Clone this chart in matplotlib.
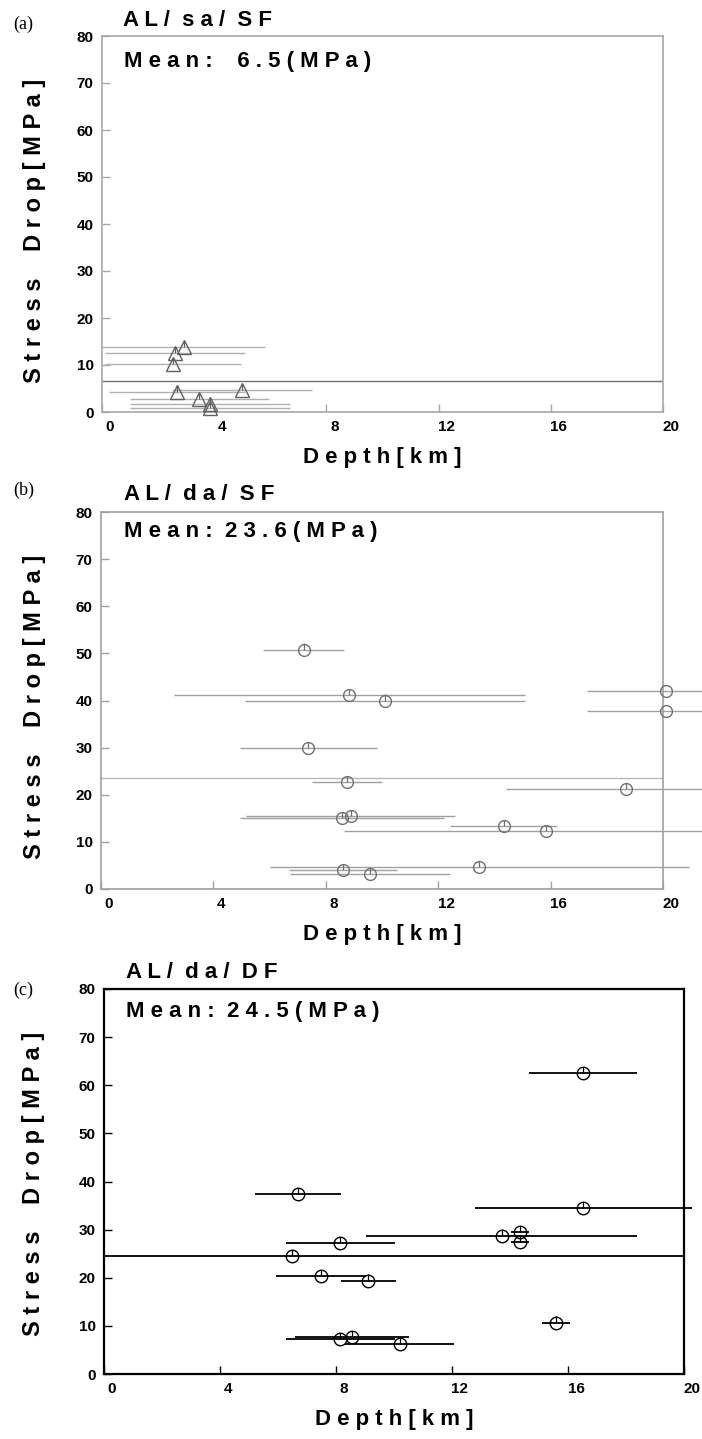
import numpy as np
import matplotlib
matplotlib.use('Agg')
import matplotlib.pyplot as plt
import matplotlib.transforms as mtransforms

# panel (a)  AL/sa/SF  (triangles)
a_depth = [2.91, 2.61, 2.52, 2.67, 4.99, 3.47, 3.85, 3.85]
a_drop = [13.8, 12.5, 10.2, 4.35, 4.6, 2.75, 1.67, 0.9]
a_xerr = [2.9, 2.5, 2.43, 2.43, 2.49, 2.48, 2.85, 2.85]
a_mean = 6.5

# panel (b)  AL/da/SF  (circles)
b_depth = [7.22, 8.84, 10.12, 20.1, 20.1, 7.38, 8.76, 18.68, 8.58, 8.88,
           14.33, 15.84, 8.61, 9.57, 13.46]
b_drop = [50.8, 41.2, 40.0, 42.1, 37.7, 29.9, 22.7, 21.2, 15.1, 15.5,
          13.4, 12.3, 4.1, 3.2, 4.6]
b_xerr = [1.44, 6.24, 4.98, 2.8, 2.8, 2.43, 1.25, 4.28, 3.63, 3.72,
          1.9, 7.2, 1.91, 2.85, 7.45]
b_mean = 23.6

# panel (c)  AL/da/DF  (circles)
c_depth = [16.53, 6.68, 16.53, 13.71, 14.34, 14.34, 8.15, 6.47, 7.48, 9.12,
           15.58, 8.15, 8.55, 10.2]
c_drop = [62.5, 37.4, 34.5, 28.75, 29.5, 27.5, 27.15, 24.45, 20.4, 19.4,
          10.7, 7.2, 7.6, 6.2]
c_xerr = [1.86, 1.49, 3.75, 4.68, 0.3, 0.3, 1.88, 0.0, 1.55, 0.95,
          0.49, 1.88, 1.98, 1.88]
c_mean = 24.5

xticks = [0, 4, 8, 12, 16, 20]
yticks = [0, 10, 20, 30, 40, 50, 60, 70, 80]

W, H = 702, 1439
fig = plt.figure(figsize=(7.02, 14.39), dpi=100)
plt.rcParams['font.family'] = ['Liberation Sans', 'DejaVu Sans']


def add_ax(left, right, top, bottom):
    return fig.add_axes([left / W, 1 - bottom / H, (right - left) / W, (bottom - top) / H])


def fig_text(x, y, s, **kw):
    fig.text(x / W, 1 - y / H, s, **kw)


def panel(ax, depth, drop, xerr, mean, marker, ms, lc, mc, meanc, lw, box, lab_dx):
    ax.set_xlim(0, 20)
    ax.set_ylim(0, 80)
    for x, y, e in zip(depth, drop, xerr):
        ax.errorbar([x], [y], xerr=[e], fmt='none', ecolor=lc, elinewidth=lw,
                    capsize=0, clip_on=False, zorder=2)
        ax.errorbar([x], [y], yerr=[[0], [1.3]], fmt='none', ecolor=mc,
                    elinewidth=0.9, capsize=0, zorder=3)
        ax.plot([x], [y], marker=marker, ms=ms, mfc='none', mec=mc, mew=1.0,
                ls='none', clip_on=False, zorder=4)
    ax.axhline(mean, color=meanc, lw=lw, zorder=1)
    for sp in ax.spines.values():
        sp.set_color(box[0])
        sp.set_linewidth(box[1])
    ax.set_xticks(xticks)
    ax.set_yticks(yticks)
    ax.tick_params(direction='in', length=6, width=1, color=box[0],
                   labelsize=11, pad=6)
    for lab in ax.get_xticklabels() + ax.get_yticklabels():
        lab.set_fontweight('bold')
    off = mtransforms.ScaledTranslation(lab_dx / 100, 0, fig.dpi_scale_trans)
    for t in ax.xaxis.get_major_ticks():
        t.label1.set_transform(t.label1.get_transform() + off)
    ax.set_xlabel('D e p t h [ k m ]', fontsize=16, fontweight='bold', labelpad=9)


ylab = 'S t r e s s    D r o p [ M P a ]'
tkw = dict(fontsize=16, fontweight='bold', va='center')
ykw = dict(fontsize=17, fontweight='bold', rotation=90, ha='center', va='center')
pkw = dict(fontsize=13, family='Liberation Serif', va='center')

# (a)
ax1 = add_ax(102, 663, 36, 412)
panel(ax1, a_depth, a_drop, a_xerr, a_mean, '^', 9.5, '#b0b0b0', '#606060',
      '#707070', 1.0, ('#a8a8a8', 1.2), 8)
fig_text(13, 24, '(a)', **pkw)
fig_text(123, 20, 'A L /  s a /  S F', **tkw)
fig_text(124, 61, 'M e a n :    6 . 5 ( M P a )', **tkw)
fig_text(35, 231, ylab, **ykw)

# (b)
ax2 = add_ax(101, 663, 512, 889)
panel(ax2, b_depth, b_drop, b_xerr, b_mean, 'o', 8.5, '#a0a0a0', '#707070',
      '#b8b8b8', 1.0, ('#a0a0a0', 1.2), 8)
fig_text(13, 490, '(b)', **pkw)
fig_text(124, 494, 'A L /  d a /  S F', **tkw)
fig_text(124, 532, 'M e a n :  2 3 . 6 ( M P a )', **tkw)
fig_text(35, 707, ylab, **ykw)

# (c)
ax3 = add_ax(104, 684, 989, 1374)
panel(ax3, c_depth, c_drop, c_xerr, c_mean, 'o', 9.0, 'black', 'black',
      'black', 1.3, ('black', 1.6), 8)
fig_text(13, 990, '(c)', **pkw)
fig_text(126, 972, 'A L /  d a /  D F', **tkw)
fig_text(126, 1011, 'M e a n :  2 4 . 5 ( M P a )', **tkw)
fig_text(34, 1184, ylab, **ykw)

fig.savefig('out.png', dpi=100)
